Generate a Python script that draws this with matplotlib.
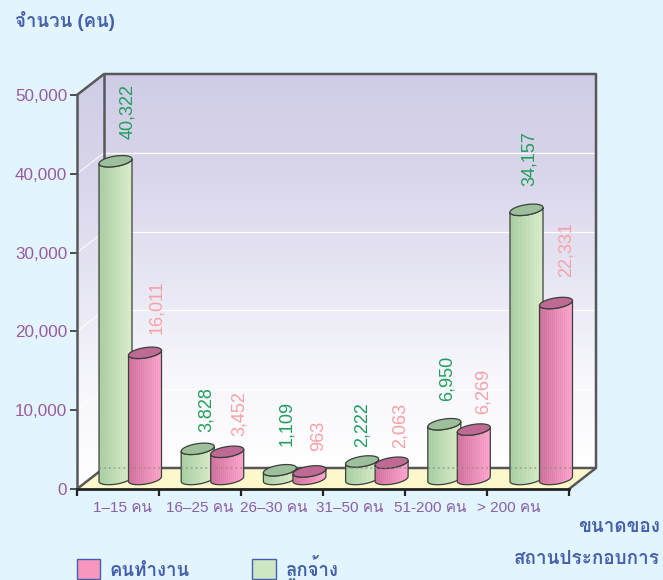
import numpy as np
from matplotlib import pyplot as plt
from matplotlib import font_manager as fm
from matplotlib.colors import LinearSegmentedColormap
from matplotlib.patches import Polygon, Patch

categories = ['1–15 คน', '16–25 คน', '26–30 คน', '31–50 คน', '51-200 คน', '> 200 คน']
employees = [40322, 3828, 1109, 2222, 6950, 34157]
workers = [16011, 3452, 963, 2063, 6269, 22331]
worker_name = 'คนทำงาน'
employee_name = 'ลูกจ้าง'

# which installed fonts can draw thai
thai = []
for f in fm.fontManager.ttflist:
    try:
        if 0x0E01 in fm.get_font(f.fname).get_charmap() and f.name not in thai:
            thai.append(f.name)
    except Exception:
        pass

plt.rcParams['font.family'] = ['Liberation Sans'] + thai + ['DejaVu Sans']

bg = '#E2F4FD'
frame = '#58585A'
purple = '#8A5FA8'
blue = '#4460AC'

# depth of the box in data units
dx = 27 / 82
dy = 21 / 78.8 * 10000
ymax = 50000
base = 1270
bar_a = 16.5 / 82

fig = plt.figure(figsize=(6.63, 5.8), dpi=100, facecolor=bg)
ax = fig.add_axes([77 / 663, 1 - 489 / 580, 519 / 663, 415 / 580])
ax.set_facecolor('none')
xlim = (0, 6 + dx)
ylim = (0, ymax + dy)

# walls
wall_cmap = LinearSegmentedColormap.from_list('wall', ['#FFFFFF', '#F6F6FC', '#E6E5F3', '#D9D6EB', '#CFCCE6'])
grad = np.linspace(0, 1, 200).reshape(-1, 1)
ax.imshow(grad, extent=(dx, 6 + dx, dy, ymax + dy), origin='lower', aspect='auto', cmap=wall_cmap, zorder=1)
side = Polygon([(0, 0), (dx, dy), (dx, ymax + dy), (0, ymax)], closed=True, transform=ax.transData, fc='none', ec='none')
ax.add_patch(side)
im = ax.imshow(grad, extent=(0, dx, 0, ymax + dy), origin='lower', aspect='auto', cmap=wall_cmap, zorder=1)
im.set_clip_path(side)
ax.add_patch(Polygon([(0, 0), (dx, dy), (6 + dx, dy), (6, 0)], closed=True, fc='#FDF8CC', ec='none', zorder=1.5))

for v in range(10000, ymax, 10000):
    ax.plot([dx, 6 + dx], [v + dy, v + dy], color='white', lw=0.9, zorder=2)
    ax.plot([0, dx], [v, v + dy], color='white', lw=0.7, zorder=2)

# box edges
ax.plot([0, dx, 6 + dx, 6 + dx, 6], [ymax, ymax + dy, ymax + dy, dy, 0], color=frame, lw=1.8, zorder=3, clip_on=False)
ax.plot([dx, dx], [dy, ymax + dy], color=frame, lw=1.8, zorder=3)
ax.plot([0, dx, 6 + dx], [0, dy, dy], color=frame, lw=1.8, zorder=3)


def stripes(c0, c1):
    cmap = LinearSegmentedColormap.from_list('c', [c0, c1])
    t = np.linspace(0, 1, 33)
    t = t + 0.12 * (np.arange(33) % 2)
    return cmap(np.clip(t, 0, 1)).reshape(1, -1, 4)


def cylinder(cx, value, c0, c1, top_color, z):
    a = bar_a
    b = 5.2 / 78.8 * 10000
    s = 2.4 / 78.8 * 10000
    t = np.linspace(0, 2 * np.pi, 80)
    ex = a * np.cos(t)
    ey = b * np.sin(t) + s * np.cos(t)
    low = np.linspace(np.pi, 2 * np.pi, 40)
    lx = a * np.cos(low)
    ly = b * np.sin(low) + s * np.cos(low)
    top = base + value
    body = np.vstack([
        np.column_stack([cx + lx, base + ly]),
        np.column_stack([cx + lx[::-1], top + ly[::-1]]),
    ])
    edge = '#3A403C'
    shape = Polygon(body, closed=True, fc='none', ec='none', zorder=z)
    ax.add_patch(shape)
    im = ax.imshow(stripes(c0, c1), extent=(cx - a, cx + a, base - b - s, top + b + s),
                   aspect='auto', zorder=z, interpolation='nearest')
    im.set_clip_path(shape)
    ax.add_patch(Polygon(body, closed=True, fc='none', ec=edge, lw=0.9, zorder=z + 0.01))
    ax.add_patch(Polygon(np.column_stack([cx + ex, top + ey]), closed=True, fc=top_color, ec=edge, lw=0.9, zorder=z + 0.02))
    # back floor line shows through the bars
    if top > dy:
        ax.plot([cx - a, cx + a], [dy, dy], color='#8C8C8C', lw=1.4, ls=(0, (1, 1.5)), alpha=0.6, zorder=z + 0.03)


# the value labels are hand placed in the original, pixel nudges
green_nudge = [(12, 22), (9, 17), (7, 24), (0, 14), (3, 23), (3, 24)]
pink_nudge = [(12, 19), (12, 16), (9, 20), (9, 15), (9, 16), (10, 26)]

for i in range(6):
    gx = (38.5 + 82.2 * i) / 82
    px = (68 + 82.2 * i) / 82
    cylinder(gx, employees[i], '#A6CDA0', '#D8EBC8', '#9DBF9C', 4 + i)
    cylinder(px, workers[i], '#CE6F9B', '#FBA3CA', '#BE6A94', 4.5 + i)
    ax.annotate(f'{employees[i]:,}', (gx, base + employees[i]), xytext=green_nudge[i], textcoords='offset pixels',
                rotation=90, ha='center', va='bottom', color='#1F9E5B', fontsize=13, zorder=20)
    ax.annotate(f'{workers[i]:,}', (px, base + workers[i]), xytext=pink_nudge[i], textcoords='offset pixels',
                rotation=90, ha='center', va='bottom', color='#F9A0A5', fontsize=13, zorder=20)

ax.set_xlim(xlim)
ax.set_ylim(ylim)

for name in ['top', 'right']:
    ax.spines[name].set_visible(False)
ax.spines['left'].set_bounds(0, ymax)
ax.spines['left'].set_color(frame)
ax.spines['left'].set_linewidth(1.8)
ax.spines['bottom'].set_bounds(0, 6)
ax.spines['bottom'].set_color('#222222')
ax.spines['bottom'].set_linewidth(2)
for s in ax.spines.values():
    s.set_zorder(18)

ax.set_yticks(range(0, ymax + 1, 10000))
ax.set_yticklabels([f'{v:,}' for v in range(0, ymax + 1, 10000)], color='#9A5BA0', fontsize=12.3)
ax.tick_params(axis='y', length=5, width=1.2, color='#333333', pad=2)
ax.set_xticks(range(7))
ax.set_xticklabels([''] * 7)
ax.tick_params(axis='x', length=5, width=1.6, color='#222222')

# tick labels sit unevenly under the categories in the original
label_x = [122, 200, 274, 350, 430, 509]
for x, c in zip(label_x, categories):
    fig.text(x / 663, 1 - 508 / 580, c, ha='center', va='center', color=purple, fontsize=11)

fig.text(15 / 663, 1 - 21 / 580, 'จำนวน (คน)', color=blue, fontsize=13.4, fontweight='bold', va='center')
fig.text(660 / 663, 1 - 527 / 580, 'ขนาดของ', color=blue, fontsize=13.6, fontweight='bold', ha='right', va='center')
fig.text(660 / 663, 1 - 559 / 580, 'สถานประกอบการ', color=blue, fontsize=13.6, fontweight='bold', ha='right', va='center')

handles = [Patch(fc='#F797C0', ec=blue, lw=1), Patch(fc='#CFE6C3', ec=blue, lw=1)]
leg = fig.legend(handles, [worker_name, employee_name], ncol=2, frameon=False, loc='lower left',
                 bbox_to_anchor=(71 / 663, -0.011), handlelength=1.25, handleheight=1.25, handletextpad=0.54,
                 columnspacing=3.35, prop={'size': 13.4, 'weight': 'bold'}, borderaxespad=0, borderpad=0.3)
for t in leg.get_texts():
    t.set_color(blue)

fig.savefig('out.png', dpi=100, facecolor=bg)
